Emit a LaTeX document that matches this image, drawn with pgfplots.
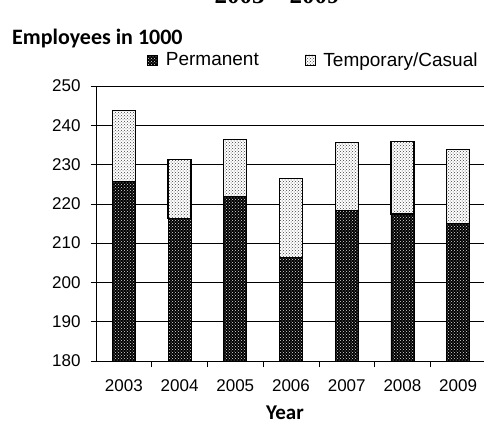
\documentclass[border=0pt]{standalone}
\usepackage{pgfplots}
\pgfplotsset{compat=1.18}
\usepackage{fontspec}
\setmainfont{Liberation Sans}
\newfontfamily\calibri{Carlito}
\newfontfamily\timesf{Liberation Serif}
\usetikzlibrary{patterns}
\begin{document}
\begin{tikzpicture}
\useasboundingbox (-96pt,-62pt) rectangle (388pt,361pt);
\begin{axis}[
  scale only axis, width=390pt, height=275pt,
  ybar stacked, bar width=23pt,
  xmin=-0.5, xmax=6.5, ymin=180, ymax=250,
  xtick={0,...,6},
  xticklabels={2003,2004,2005,2006,2007,2008,2009},
  major x tick style={draw=none},
  minor xtick={0.5,1.5,...,5.5},
  minor tick length=6pt,
  major tick length=5pt,
  ytick={180,190,...,250},
  xtick pos=bottom, ytick pos=left,
  tick align=outside,
  tick style={black, line width=0.6pt},
  ymajorgrids, grid style={black, line width=0.6pt},
  axis x line*=bottom, axis y line*=left,
  axis line style={black, line width=0.8pt, -},
  /pgf/number format/assume math mode=true,
  ticklabel style={font=\fontsize{17}{20}\selectfont},
  yticklabel style={xshift=-7pt},
  xticklabel style={yshift=-10pt},
  legend columns=2,
  legend style={draw=none, fill=none, at={(0.131,1.095)}, anchor=west,
    font=\fontsize{19}{22}\selectfont, inner sep=0pt,
    /tikz/every odd column/.append style={column sep=6pt},
    /tikz/every even column/.append style={column sep=44pt}},
  legend image code/.code={\draw[#1, line width=0.6pt] (0pt,-5pt) rectangle (10pt,5pt);},
]
\addplot[draw=black, line width=0.8pt, fill=black, postaction={pattern=crosshatch dots, pattern color=white!75!gray}]
  coordinates {(0,225.6) (1,216.2) (2,221.8) (3,206.4) (4,218.3) (5,217.4) (6,214.9)};
\addlegendentry{Permanent}
\addplot[draw=black, line width=1.2pt, fill=white, postaction={pattern=crosshatch dots, pattern color=black!75}]
  coordinates {(0,18.1) (1,15.1) (2,14.5) (3,20.0) (4,17.3) (5,18.5) (6,18.9)};
\addlegendentry{Temporary/Casual}
\end{axis}
\node[overlay, anchor=base, font=\timesf\bfseries\fontsize{25}{25}\selectfont] at (181pt,357pt) {2003 – 2009};
\node[anchor=base west, inner sep=0pt, font=\calibri\bfseries\fontsize{22}{24}\selectfont] at (-84pt,316pt) {Employees in 1000};
\node[anchor=base, inner sep=0pt, font=\calibri\bfseries\fontsize{21}{24}\selectfont] at (189pt,-58pt) {Year};
\end{tikzpicture}
\end{document}
